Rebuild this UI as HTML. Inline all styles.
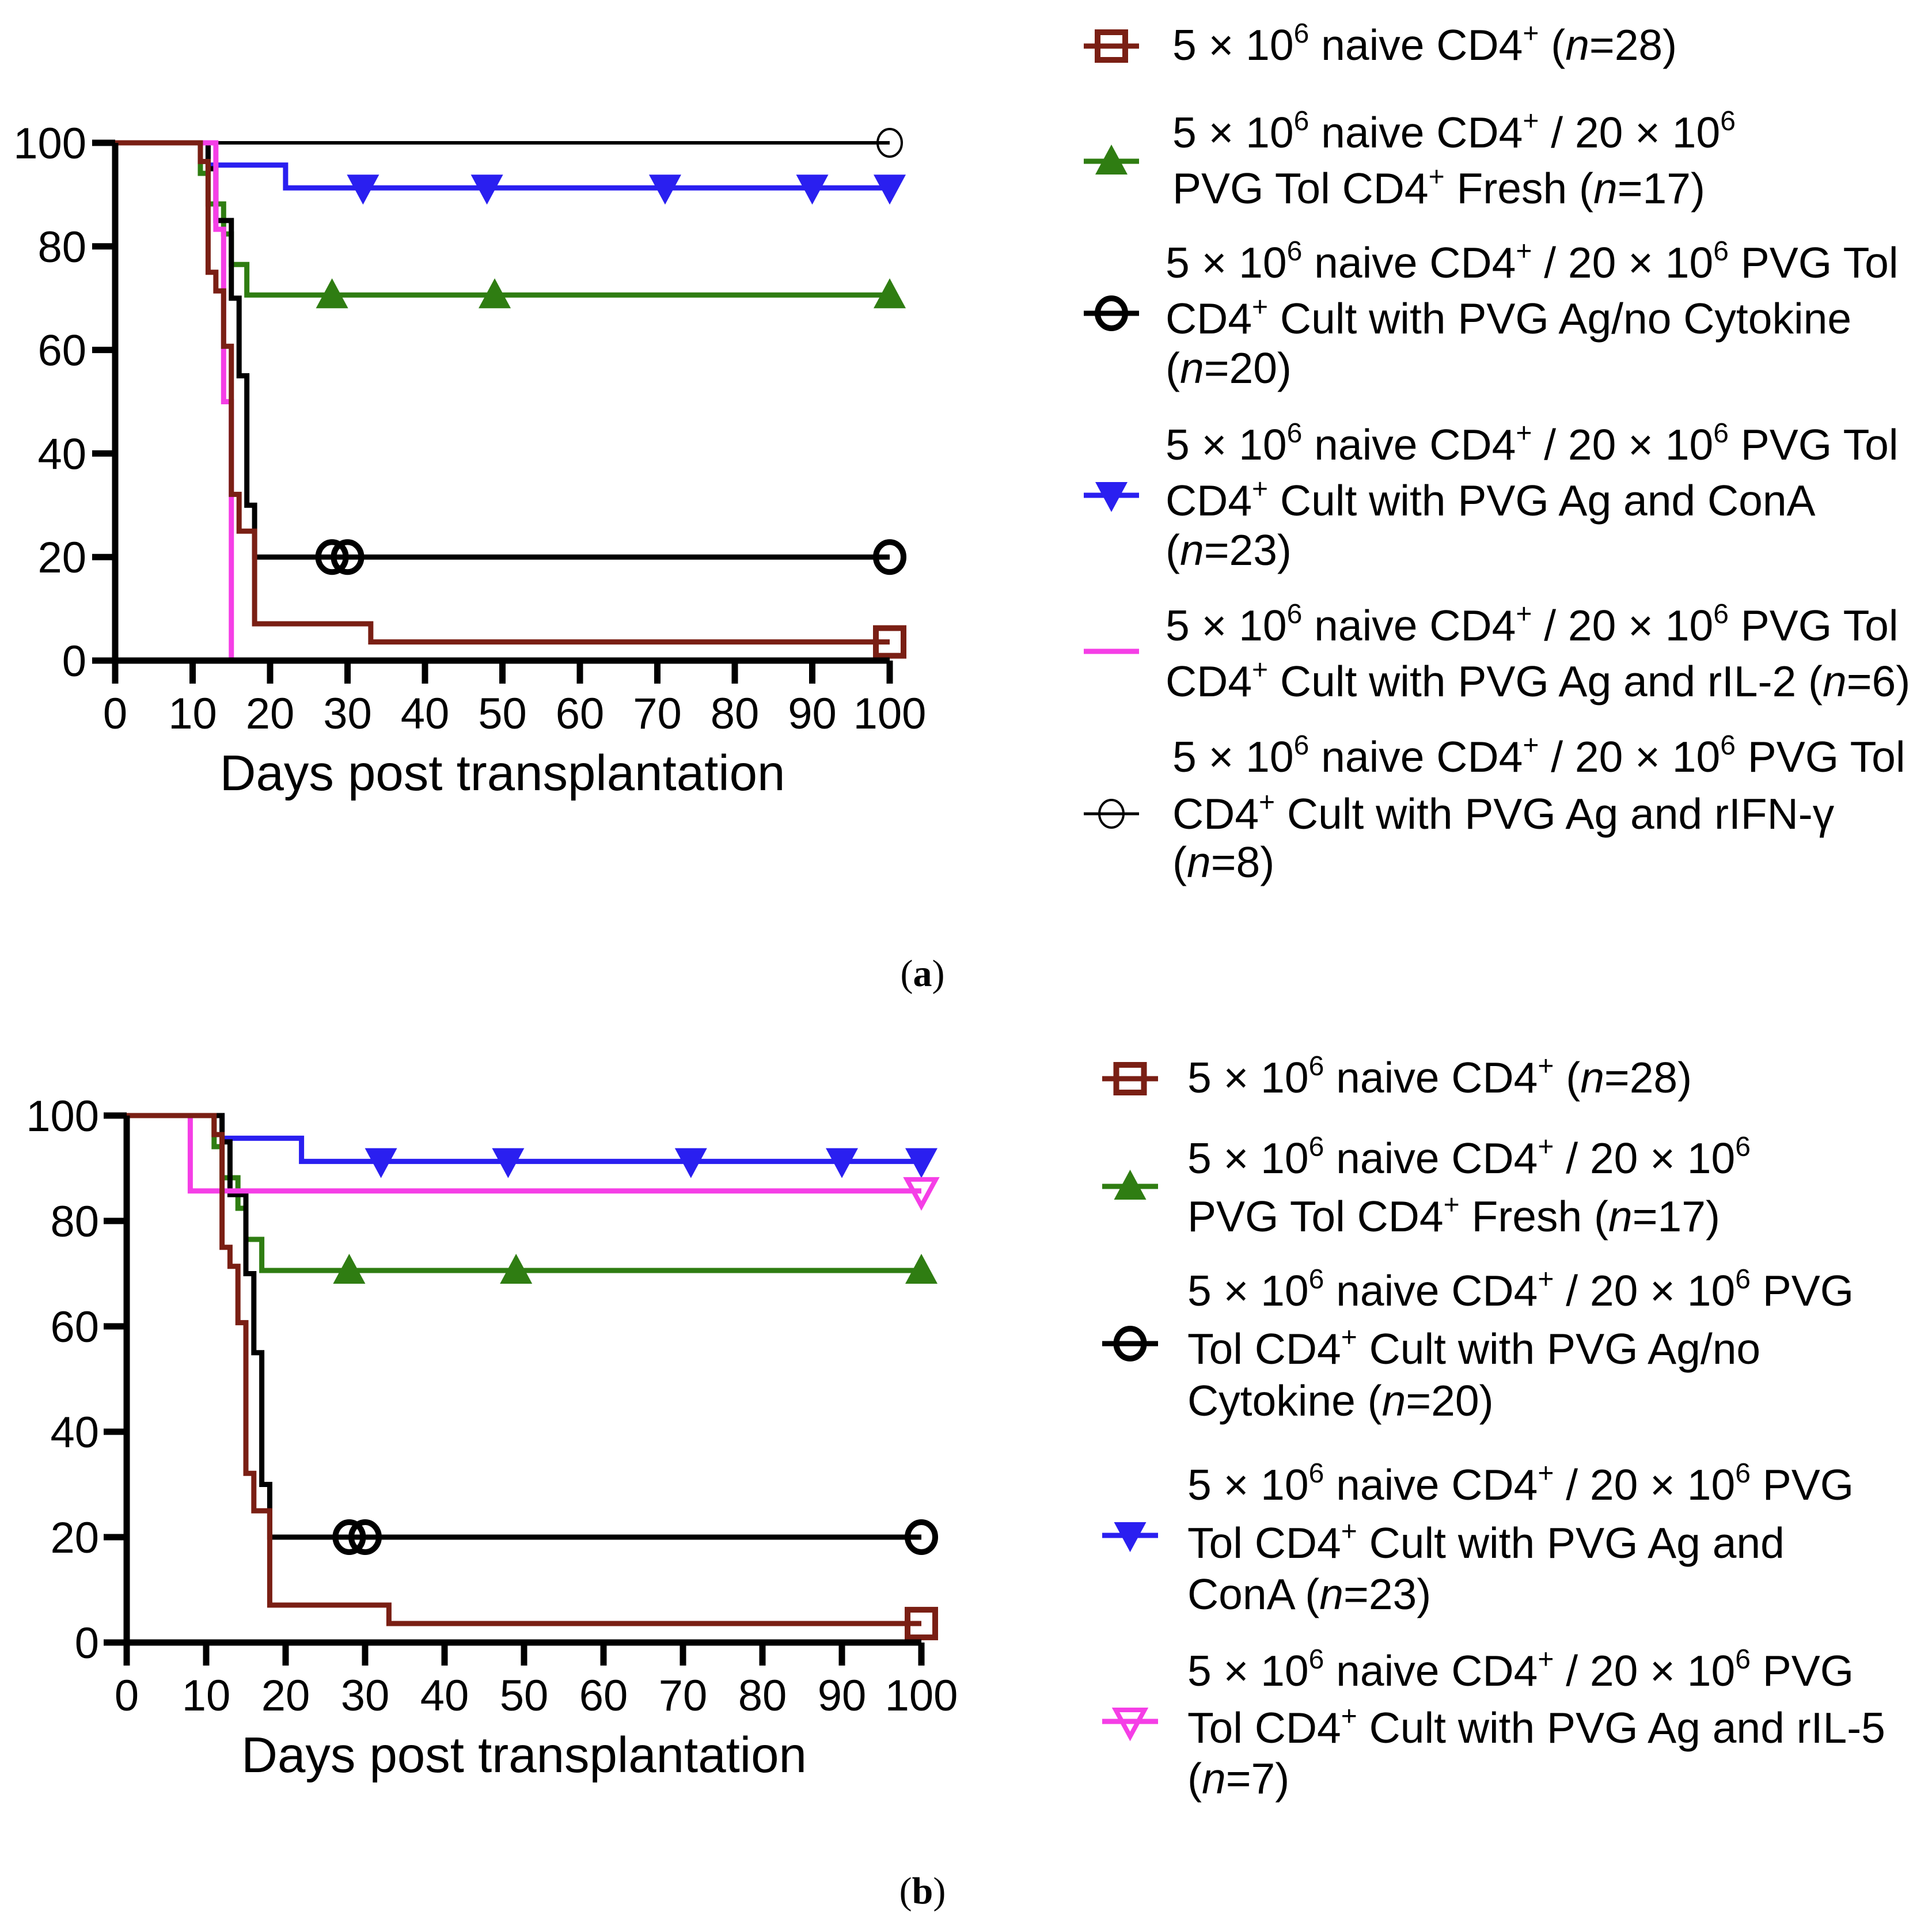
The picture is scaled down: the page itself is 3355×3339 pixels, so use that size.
<!DOCTYPE html>
<html><head><meta charset="utf-8"><style>
html,body{margin:0;padding:0;background:#fff;}
svg{display:block;font-family:"Liberation Sans",Arial,sans-serif;}
.lg{font-size:75px;fill:#000;}
.sup{font-size:48px;}
.tick{font-size:76px;fill:#000;}
.ttl{font-size:87px;fill:#000;}
</style></head><body>
<svg id="chart" width="3355" height="3339" viewBox="0 0 3355 3339" xmlns="http://www.w3.org/2000/svg">
<g id="pa"></g>
<g id="pb"></g>

<g>
 <g id="lga"></g>
 <text class="lg" x="2036" y="104">5 × 10<tspan class="sup" dy="-30">6</tspan><tspan dy="30"> naive CD4</tspan><tspan class="sup" dy="-30">+</tspan><tspan dy="30"> (</tspan><tspan font-style="italic">n</tspan>=28)</text>
 <text class="lg" x="2036" y="256">5 × 10<tspan class="sup" dy="-30">6</tspan><tspan dy="30"> naive CD4</tspan><tspan class="sup" dy="-30">+</tspan><tspan dy="30"> / 20 × 10</tspan><tspan class="sup" dy="-30">6</tspan></text>
 <text class="lg" x="2036" y="353">PVG Tol CD4<tspan class="sup" dy="-30">+</tspan><tspan dy="30"> Fresh (</tspan><tspan font-style="italic">n</tspan>=17)</text>
 <text class="lg" x="2024" y="482">5 × 10<tspan class="sup" dy="-30">6</tspan><tspan dy="30"> naive CD4</tspan><tspan class="sup" dy="-30">+</tspan><tspan dy="30"> / 20 × 10</tspan><tspan class="sup" dy="-30">6</tspan><tspan dy="30"> PVG Tol</tspan></text>
 <text class="lg" x="2024" y="579">CD4<tspan class="sup" dy="-30">+</tspan><tspan dy="30"> Cult with PVG Ag/no Cytokine</tspan></text>
 <text class="lg" x="2024" y="665">(<tspan font-style="italic">n</tspan>=20)</text>
 <text class="lg" x="2024" y="798">5 × 10<tspan class="sup" dy="-30">6</tspan><tspan dy="30"> naive CD4</tspan><tspan class="sup" dy="-30">+</tspan><tspan dy="30"> / 20 × 10</tspan><tspan class="sup" dy="-30">6</tspan><tspan dy="30"> PVG Tol</tspan></text>
 <text class="lg" x="2024" y="895">CD4<tspan class="sup" dy="-30">+</tspan><tspan dy="30"> Cult with PVG Ag and ConA</tspan></text>
 <text class="lg" x="2024" y="981">(<tspan font-style="italic">n</tspan>=23)</text>
 <text class="lg" x="2024" y="1112">5 × 10<tspan class="sup" dy="-30">6</tspan><tspan dy="30"> naive CD4</tspan><tspan class="sup" dy="-30">+</tspan><tspan dy="30"> / 20 × 10</tspan><tspan class="sup" dy="-30">6</tspan><tspan dy="30"> PVG Tol</tspan></text>
 <text class="lg" x="2024" y="1209">CD4<tspan class="sup" dy="-30">+</tspan><tspan dy="30"> Cult with PVG Ag and rIL-2 (</tspan><tspan font-style="italic">n</tspan>=6)</text>
 <text class="lg" x="2036" y="1340">5 × 10<tspan class="sup" dy="-30">6</tspan><tspan dy="30"> naive CD4</tspan><tspan class="sup" dy="-30">+</tspan><tspan dy="30"> / 20 × 10</tspan><tspan class="sup" dy="-30">6</tspan><tspan dy="30"> PVG Tol</tspan></text>
 <text class="lg" x="2036" y="1439">CD4<tspan class="sup" dy="-30">+</tspan><tspan dy="30"> Cult with PVG Ag and rIFN-γ</tspan></text>
 <text class="lg" x="2036" y="1523">(<tspan font-style="italic">n</tspan>=8)</text>
</g>
<text x="1602" y="1712" font-family="Liberation Serif,serif" font-size="66" text-anchor="middle">(<tspan font-weight="bold">a</tspan>)</text>

<g>
 <g id="lgb"></g>
 <text class="lg" x="2062" y="1897">5 × 10<tspan class="sup" dy="-30">6</tspan><tspan dy="30"> naive CD4</tspan><tspan class="sup" dy="-30">+</tspan><tspan dy="30"> (</tspan><tspan font-style="italic">n</tspan>=28)</text>
 <text class="lg" x="2062" y="2037">5 × 10<tspan class="sup" dy="-30">6</tspan><tspan dy="30"> naive CD4</tspan><tspan class="sup" dy="-30">+</tspan><tspan dy="30"> / 20 × 10</tspan><tspan class="sup" dy="-30">6</tspan></text>
 <text class="lg" x="2062" y="2138">PVG Tol CD4<tspan class="sup" dy="-30">+</tspan><tspan dy="30"> Fresh (</tspan><tspan font-style="italic">n</tspan>=17)</text>
 <text class="lg" x="2062" y="2267">5 × 10<tspan class="sup" dy="-30">6</tspan><tspan dy="30"> naive CD4</tspan><tspan class="sup" dy="-30">+</tspan><tspan dy="30"> / 20 × 10</tspan><tspan class="sup" dy="-30">6</tspan><tspan dy="30"> PVG</tspan></text>
 <text class="lg" x="2062" y="2368">Tol CD4<tspan class="sup" dy="-30">+</tspan><tspan dy="30"> Cult with PVG Ag/no</tspan></text>
 <text class="lg" x="2062" y="2458">Cytokine (<tspan font-style="italic">n</tspan>=20)</text>
 <text class="lg" x="2062" y="2604">5 × 10<tspan class="sup" dy="-30">6</tspan><tspan dy="30"> naive CD4</tspan><tspan class="sup" dy="-30">+</tspan><tspan dy="30"> / 20 × 10</tspan><tspan class="sup" dy="-30">6</tspan><tspan dy="30"> PVG</tspan></text>
 <text class="lg" x="2062" y="2705">Tol CD4<tspan class="sup" dy="-30">+</tspan><tspan dy="30"> Cult with PVG Ag and</tspan></text>
 <text class="lg" x="2062" y="2794">ConA (<tspan font-style="italic">n</tspan>=23)</text>
 <text class="lg" x="2062" y="2927">5 × 10<tspan class="sup" dy="-30">6</tspan><tspan dy="30"> naive CD4</tspan><tspan class="sup" dy="-30">+</tspan><tspan dy="30"> / 20 × 10</tspan><tspan class="sup" dy="-30">6</tspan><tspan dy="30"> PVG</tspan></text>
 <text class="lg" x="2062" y="3026">Tol CD4<tspan class="sup" dy="-30">+</tspan><tspan dy="30"> Cult with PVG Ag and rIL-5</tspan></text>
 <text class="lg" x="2062" y="3114">(<tspan font-style="italic">n</tspan>=7)</text>
</g>
<text x="1602" y="3305" font-family="Liberation Serif,serif" font-size="66" text-anchor="middle">(<tspan font-weight="bold">b</tspan>)</text>
</svg>
<script>
// ---- data ----
const xTicks = [0,10,20,30,40,50,60,70,80,90,100];
const yTicks = [0,20,40,60,80,100];
const naiveT = [0,11,12,13,14,15,16,18,33,100];
const naiveS = [100,96.4,75,71.4,60.7,32.1,25,7.1,3.6,3.6];
const freshT = [0,11,12,14,15,17,100];
const freshS = [100,94.1,88.2,82.4,76.5,70.6,70.6];
const nocytT = [0,12,13,15,16,17,18,100];
const nocytS = [100,95,85,70,55,30,20,20];
const conaT = [0,12,22,100];
const conaS = [100,95.7,91.3,91.3];
const il2T = [0,13,14,15];
const il2S = [100,83.3,50,0];
const ifnT = [0,100];
const ifnS = [100,100];
const il5T = [0,8,100];
const il5S = [100,85.7,85.7];
const naiveCens=[100], freshCens=[28,49,100], nocytCens=[28,30,100], conaCens=[32,48,71,90,100], ifnCens=[100], il5Cens=[100];

const NS='http://www.w3.org/2000/svg';
function mk(tag,attrs,parent){const e=document.createElementNS(NS,tag);for(const k in attrs)e.setAttribute(k,attrs[k]);parent.appendChild(e);return e;}
const C={brown:'#7a1f14',green:'#2f7d12',black:'#000',blue:'#2a1ff0',pink:'#f53ee6'};

function marker(g,type,x,y,color,thin){
  let m;
  if(type==='square') m=mk('rect',{x:x-24,y:y-24,width:48,height:48,fill:'none',stroke:color,'stroke-width':10},g);
  else if(type==='tri') m=mk('polygon',{points:`${x-28},${y+23} ${x+28},${y+23} ${x},${y-29}`,fill:color},g);
  else if(type==='dtri') m=mk('polygon',{points:`${x-28},${y-23} ${x+28},${y-23} ${x},${y+29}`,fill:color},g);
  else if(type==='odtri') m=mk('polygon',{points:`${x-25},${y-20} ${x+25},${y-20} ${x},${y+26}`,fill:'none',stroke:color,'stroke-width':8},g);
  else if(type==='circle') m=mk('ellipse',{cx:x,cy:y,rx:thin?21:24,ry:thin?24:26,fill:'none',stroke:color,'stroke-width':thin?4:10},g);
  
  
}

function panel(gid,x0,x1,y0,y1,series,tickLabelX){
  const g=document.getElementById(gid);
  const sx=v=>x0+(x1-x0)*v/100, sy=v=>y0+(y1-y0)*v/100;
  series.forEach(s=>{
    let d=`M${sx(s.t[0])},${sy(s.s[0])}`;
    for(let i=1;i<s.t.length;i++){d+=` H${sx(s.t[i])} V${sy(s.s[i])}`;}
    const p=mk('path',{d:d,fill:'none',stroke:s.c,'stroke-width':s.w||9},g);
    
    
    const step=t=>{let v=s.s[0];for(let i=0;i<s.t.length;i++){if(s.t[i]<=t)v=s.s[i];}return v;};
    (s.cens||[]).forEach(t=>marker(g,s.m,sx(t),sy(step(t)),s.c,s.thin));
  });
  const ax=mk('path',{d:`M${x0},${y1} V${y0} H${x1}`,fill:'none',stroke:'#000','stroke-width':11},g);
  
  
  xTicks.forEach(t=>{
    mk('line',{x1:sx(t),x2:sx(t),y1:y0,y2:y0+40,stroke:'#000','stroke-width':11},g);
    const tx=mk('text',{x:sx(t),y:y0+118,'text-anchor':'middle',class:'tick'},g);
    
    
    tx.textContent=t;
  });
  yTicks.forEach(t=>{
    mk('line',{x1:x0-40,x2:x0,y1:sy(t),y2:sy(t),stroke:'#000','stroke-width':11},g);
    const tx=mk('text',{x:tickLabelX,y:sy(t)+27,'text-anchor':'end',class:'tick'},g);
    
    
    tx.textContent=t;
  });
  const tt=mk('text',{x:(x0+x1)/2,y:y0+225,'text-anchor':'middle',class:'ttl'},g);
  
  
  tt.textContent='Days post transplantation';
}

const common=[
 {name:'conA',t:conaT,s:conaS,c:C.blue,m:'dtri',cens:conaCens},
 {name:'fresh',t:freshT,s:freshS,c:C.green,m:'tri',cens:freshCens},
 {name:'no-cytokine',t:nocytT,s:nocytS,c:C.black,m:'circle',cens:nocytCens},
];
panel('pa',200,1545,1147,248,[
 {name:'ifn',t:ifnT,s:ifnS,c:C.black,m:'circle',cens:ifnCens,w:6,thin:true},
 ...common,
 {name:'il2',t:il2T,s:il2S,c:C.pink},
 {name:'naive',t:naiveT,s:naiveS,c:C.brown,m:'square',cens:naiveCens},
],150);
panel('pb',220,1600,2852,1937,[
 ...common,
 {name:'il5',t:il5T,s:il5S,c:C.pink,m:'odtri',cens:il5Cens},
 {name:'naive',t:naiveT,s:naiveS,c:C.brown,m:'square',cens:naiveCens},
],172);

function legend(gid,x1,x2,items){
  const g=document.getElementById(gid);
  items.forEach(it=>{
    const l=mk('line',{x1:x1,x2:x2,y1:it.y,y2:it.y,stroke:it.c,'stroke-width':it.thin?5:9},g);
    
    
    if(it.m) marker(g,it.m,(x1+x2)/2,it.y,it.c,it.thin);
  });
}
legend('lga',1882,1978,[
 {y:80,c:C.brown,m:'square'},{y:280,c:C.green,m:'tri'},{y:544,c:C.black,m:'circle'},
 {y:860,c:C.blue,m:'dtri'},{y:1131,c:C.pink},{y:1413,c:C.black,m:'circle',thin:true}]);
legend('lgb',1914,2011,[
 {y:1873,c:C.brown,m:'square'},{y:2060,c:C.green,m:'tri'},{y:2333,c:C.black,m:'circle'},
 {y:2666,c:C.blue,m:'dtri'},{y:2989,c:C.pink,m:'odtri'}]);
</script>
</body></html>
